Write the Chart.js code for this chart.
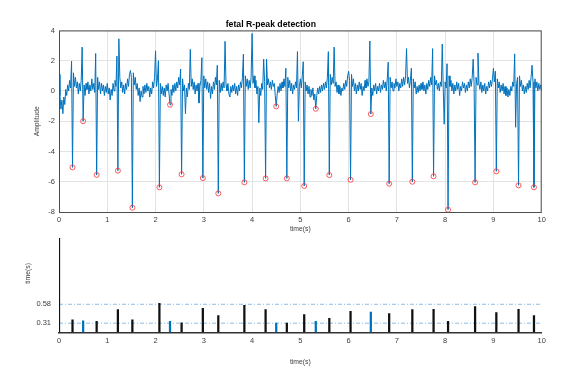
<!DOCTYPE html>
<html>
<head>
<meta charset="utf-8">
<script src="https://cdn.jsdelivr.net/npm/chart.js@4.4.1/dist/chart.umd.min.js"></script>
<style>
  html, body { margin: 0; padding: 0; background: #fff; }
  body { width: 586px; height: 378px; position: relative; overflow: hidden; }
  canvas { position: absolute; left: 0; }
  #top { top: 0; }
  #bottom { top: 202px; }
</style>
</head>
<body>
<canvas id="top" width="586" height="236"></canvas>
<canvas id="bottom" width="586" height="176"></canvas>
<script>
// sample step of the abdominal signal (s)
const dt = 0.02

// abdominal ECG amplitude, 5 rows per second
const ecg = [
  1.1, -0.3, -1.2, -0.6, -1.5, -0.4, -0.9, 0.1, -0.3, 0.4,
  0.0, 0.7, 0.2, 1.97, -5.05, 1.2, 0.3, 0.9, 0.2, 0.6,
  -0.2, 0.5, 0.0, 0.7, 2.9, -2.0, 0.4, -0.3, 0.5, 0.1,
  0.6, -0.2, 0.4, 0.0, 0.8, 0.1, 0.5, -0.1, 2.48, -5.55,
  0.9, 0.1, 0.6, -0.2, 0.5, 0.0, 0.4, -0.3, 0.3, -0.1,
  // 1 s
  0.5, -0.2, 0.2, -0.6, 0.1, -0.3, 0.5, 0.0, 0.7, 0.3,
  2.3, -5.27, 3.45, 0.9, 0.2, 0.6, -0.1, 0.4, -0.2, 0.5,
  0.1, 0.8, 0.3, 1.1, 1.35, 0.9, -7.72, 1.2, 0.4, 0.9,
  0.1, 0.5, -0.3, 0.2, -0.7, 0.0, -0.4, 0.3, -0.2, 0.4,
  -0.1, 0.5, 0.0, 0.3, -0.4, 0.2, -0.2, 0.6, 0.2, 0.9,
  // 2 s
  2.65, 0.3, 0.8, 2.0, -6.37, 0.5, -0.2, 0.3, -0.3, 0.2,
  -0.4, 0.4, 0.0, 0.5, -0.2, -0.91, 0.1, -0.3, 0.4, -0.1,
  0.5, 0.0, 0.6, 0.2, 0.9, 0.4, 1.45, -5.51, 0.8, 0.0,
  0.4, -1.5, 0.2, -0.4, 0.5, 0.1, 2.75, 0.3, 0.8, 0.1,
  0.6, -0.2, 0.4, 0.0, 0.5, -0.8, 0.3, 0.7, 2.2, -5.76,
  // 3 s
  1.0, 0.2, 0.8, 0.1, 0.6, -0.1, 0.5, -0.5, 0.3, -0.2,
  0.6, 0.1, 0.9, 0.4, 1.7, -6.77, 0.7, -0.1, 0.5, 0.0,
  0.6, 0.2, 3.28, 0.4, 0.0, 0.5, -0.2, -0.4, 0.3, -0.1,
  0.4, 0.0, 0.5, -0.2, 0.3, -0.3, 0.4, 0.0, 0.6, 0.2,
  0.9, 2.43, -6.04, 1.0, 0.3, 0.8, 0.1, 0.7, 0.2, 0.9,
  // 4 s
  3.8, 0.5, 1.0, 0.2, 0.7, -0.2, 0.3, -2.1, 0.2, -0.3,
  0.5, 0.1, 2.1, 0.6, -5.78, 2.1, 0.4, 0.8, 0.2, 0.6,
  0.1, 0.7, 0.3, 0.5, -0.3, -1.02, -0.2, 0.3, -0.1, 0.5,
  0.0, 0.6, 0.2, 0.8, 0.3, 1.5, -5.78, 0.9, 0.2, 0.7,
  0.0, 0.5, -0.2, 0.4, 0.1, 0.6, 0.2, 2.6, -2.0, 0.3,
  // 5 s
  0.8, 0.2, 1.0, 1.93, -6.28, 0.6, 0.0, 0.4, -0.2, 0.3,
  -0.4, 0.1, -0.3, 0.2, -0.6, -0.2, -1.18, -0.3, 0.2, -0.2,
  0.3, -0.1, 0.4, 0.0, 0.5, 0.1, 0.6, 0.2, 0.9, 2.6,
  -5.56, 1.1, 0.4, 0.9, 0.5, 2.9, 0.3, 0.6, -0.1, 0.4,
  -0.2, 0.3, -0.3, 0.2, 0.0, 0.5, 0.1, 0.7, 0.3, 1.0,
  // 6 s
  1.3, 0.7, -5.87, 1.1, 0.3, 0.8, 0.0, 0.5, -0.2, 0.4,
  0.0, 0.6, 0.1, 0.5, -0.3, 0.3, 0.0, 0.7, 0.2, 0.8,
  0.3, 0.6, 3.3, -1.53, 0.2, -0.3, 0.4, 0.0, 0.5, -0.2,
  0.3, 0.0, 0.5, -0.1, 0.4, 0.1, 0.7, 0.2, 0.6, 0.0,
  0.8, 1.9, -6.13, 0.9, 0.2, 0.6, 0.0, 0.5, 0.2, 0.8,
  // 7 s
  0.3, 0.6, 0.0, 0.5, 0.2, 0.8, 0.3, 0.9, 0.4, 1.0,
  2.8, 0.5, 0.9, 0.2, 0.7, 1.5, -6.0, 0.8, 0.2, 0.6,
  -0.2, 0.3, -0.1, 0.4, 0.0, 0.5, 0.1, 0.6, 0.0, 0.4,
  -0.2, 0.5, 0.1, 0.7, 0.3, 0.9, 0.4, 2.8, -5.64, 1.0,
  0.4, 0.7, 0.1, 0.5, 0.0, 0.6, 0.3, 3.1, 0.2, -2.2,
  // 8 s
  0.6, 0.2, 1.8, -7.85, 1.0, 0.3, 0.7, 0.0, 0.5, -0.2,
  0.4, 0.0, 0.6, 0.1, 0.5, -0.3, 0.3, 0.0, 0.6, 0.2,
  0.5, -0.1, 0.4, 0.0, 0.6, 0.2, 0.8, 0.3, 0.9, 2.1,
  0.4, -6.04, 0.9, 0.4, 2.5, 0.5, 0.1, 0.6, -0.1, 0.4,
  0.0, 0.5, -0.2, 0.3, 0.0, 0.6, 0.2, 0.7, 0.3, 0.8,
  // 9 s
  1.5, 0.6, 1.3, -5.31, 0.8, 0.2, 0.6, -0.1, 0.4, 0.0,
  0.5, -0.2, 0.3, -0.3, 0.2, -0.4, 0.1, -0.3, 0.3, 0.0,
  0.6, 0.3, 2.45, -2.4, 0.5, 0.9, -6.24, 1.0, 0.3, 0.7,
  0.0, 0.4, -0.2, 0.3, -0.1, 0.5, 0.1, 0.7, 0.2, 0.9,
  1.7, 0.6, -6.37, 0.8, 0.2, 0.6, 0.0, 0.5, 0.1, 0.4,
  0.0
]

// detected R-peaks (red circles)
const peakTime = [0.28, 0.50, 0.78, 1.22, 1.52, 2.08, 2.30, 2.54, 2.98, 3.30, 3.84, 4.28, 4.50, 4.72,
                  5.08, 5.32, 5.60, 6.04, 6.46, 6.84, 7.32, 7.76, 8.06, 8.62, 9.06, 9.52, 9.84]
const peakAmp = [-5.05, -2.0, -5.55, -5.27, -7.72, -6.37, -0.91, -5.51, -5.76, -6.77, -6.04, -5.78, -1.02, -5.78,
                 -6.28, -1.18, -5.56, -5.87, -1.53, -6.13, -6.0, -5.64, -7.85, -6.04, -5.31, -6.24, -6.37]

// stems of the lower plot: kept peaks (black) and rejected ones (blue)
const keptTime = [0, 0.28, 0.78, 1.22, 1.52, 2.08, 2.54, 2.98, 3.30, 3.84, 4.28, 4.72,
                  5.08, 5.60, 6.04, 6.84, 7.32, 7.76, 8.06, 8.62, 9.06, 9.52, 9.84]
const keptValue = [1.52, 0.357, 0.338, 0.505, 0.357, 0.594, 0.314, 0.523, 0.419, 0.566, 0.505, 0.31,
                   0.434, 0.381, 0.48, 0.448, 0.505, 0.509, 0.338, 0.547, 0.462, 0.509, 0.419]
const rejTime = [0.50, 2.30, 4.50, 5.32, 6.46]
const rejValue = [0.343, 0.338, 0.31, 0.338, 0.47]

// dash-dot reference levels, also the only y ticks
const refLevels = [0.31, 0.58]
const stemBase = 0.18

Chart.defaults.font.family = "'Liberation Sans', Arial, sans-serif"
Chart.defaults.color = '#404040'

const signal = ecg.map((v, i) => ({x: i * dt, y: v}))
const peaks = peakTime.map((t, i) => ({x: t, y: peakAmp[i]}))

// matlab style box around the axes
const boxPlugin = {
    id: 'box',
    afterDatasetsDraw(chart) {
        const {ctx, chartArea: a} = chart
        ctx.save()
        ctx.strokeStyle = '#4d4d4d'
        ctx.lineWidth = 1
        ctx.strokeRect(a.left + 0.5, a.top + 0.5, a.right - a.left - 1, a.bottom - a.top)
        ctx.restore()
    }
}

new Chart(document.getElementById('top'), {
    type: 'line',
    data: {
        datasets: [
            {
                data: peaks,
                showLine: false,
                pointStyle: 'circle',
                pointRadius: 2.5,
                pointBorderWidth: 0.8,
                pointBorderColor: '#ff3030',
                pointBackgroundColor: 'rgba(0,0,0,0)',
                order: 0
            },
            {
                data: signal,
                borderColor: '#0072BD',
                borderWidth: 1,
                pointRadius: 0,
                tension: 0,
                order: 1
            }
        ]
    },
    options: {
        responsive: false,
        animation: false,
        devicePixelRatio: 1,
        layout: {padding: {left: 0, right: 44.3, top: 0, bottom: 0}},
        plugins: {
            legend: {display: false},
            tooltip: {enabled: false},
            title: {
                display: true,
                text: 'fetal R-peak detection',
                color: '#000',
                font: {size: 8.7, weight: 'bold'},
                padding: {top: 19.5, bottom: 0.5}
            }
        },
        scales: {
            x: {
                type: 'linear', min: 0, max: 10,
                ticks: {stepSize: 1, font: {size: 7.5}, padding: 3.5, maxRotation: 0},
                grid: {color: '#e3e3e3', drawTicks: false},
                border: {display: false},
                title: {display: true, text: 'time(s)', font: {size: 6.8}, padding: {top: 0, bottom: 3.2}},
                afterFit: s => { s.height = 24 }
            },
            y: {
                min: -8, max: 4,
                ticks: {stepSize: 2, font: {size: 7.5}, padding: 4},
                grid: {color: '#e3e3e3', drawTicks: false},
                border: {display: false},
                title: {display: true, text: 'Amplitude', font: {size: 6.8}, padding: {top: 33.2, bottom: 0}},
                afterFit: s => { s.width = 59 }
            }
        }
    },
    plugins: [boxPlugin]
})

new Chart(document.getElementById('bottom'), {
    type: 'bar',
    data: {
        datasets: [
            {
                data: keptTime.map((t, i) => ({x: t, y: keptValue[i]})),
                backgroundColor: '#111',
                base: stemBase,
                grouped: false,
                barThickness: 1.6,
                maxBarThickness: 1.6,
                order: 0
            },
            {
                data: rejTime.map((t, i) => ({x: t, y: rejValue[i]})),
                backgroundColor: '#0072BD',
                base: stemBase,
                grouped: false,
                barThickness: 1.6,
                maxBarThickness: 1.6,
                order: 0
            },
            ...refLevels.map(v => ({
                type: 'line',
                data: [{x: 0, y: v}, {x: 10, y: v}],
                borderColor: '#8fbce6',
                borderWidth: 1,
                borderDash: [4, 2, 1, 2],
                pointRadius: 0,
                order: 1
            }))
        ]
    },
    options: {
        responsive: false,
        animation: false,
        devicePixelRatio: 1,
        layout: {padding: {left: 0, right: 44.3, top: 0, bottom: 0}},
        plugins: {legend: {display: false}, tooltip: {enabled: false}},
        scales: {
            x: {
                type: 'linear', min: 0, max: 10, offset: false,
                ticks: {stepSize: 1, font: {size: 7.5}, padding: 4, maxRotation: 0},
                grid: {display: false, drawTicks: false},
                border: {display: true, color: '#333', width: 1.5},
                title: {display: true, text: 'time(s)', font: {size: 6.8}, padding: {top: 0, bottom: 12.2}},
                afterFit: s => { s.height = 45.7 }
            },
            y: {
                min: stemBase, max: 1.86, beginAtZero: false,
                afterBuildTicks: s => { s.ticks = refLevels.map(v => ({value: v})) },
                ticks: {font: {size: 7.5}, padding: 8, callback: v => v.toFixed(2)},
                grid: {display: false, drawTicks: false},
                border: {display: false},
                title: {display: true, text: 'time(s)', font: {size: 6.8}, padding: {top: 23.6, bottom: 0}},
                afterFit: s => { s.width = 59 }
            }
        }
    }
})
</script>
</body>
</html>
